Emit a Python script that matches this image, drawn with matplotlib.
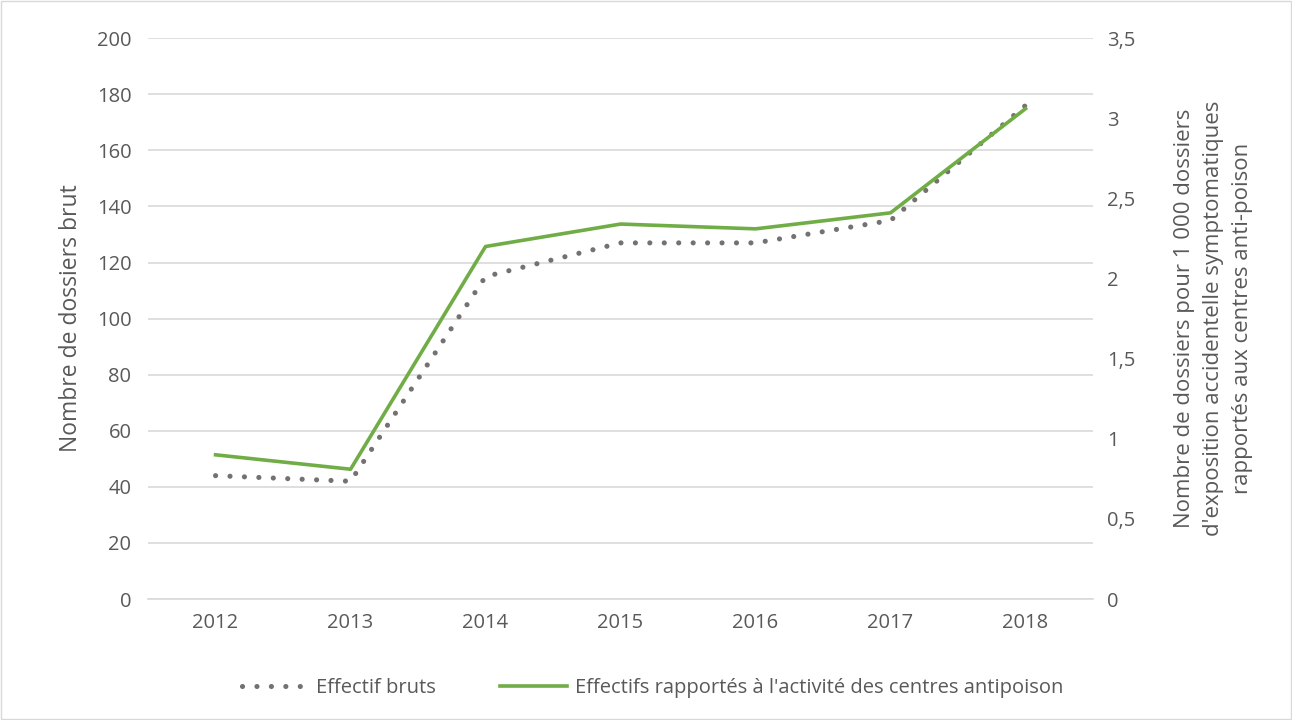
import matplotlib
matplotlib.use("Agg")
import matplotlib.pyplot as plt
from matplotlib.ticker import FixedLocator, FuncFormatter

plt.rcParams['font.family'] = ['Open Sans', 'DejaVu Sans']

years = ["2012", "2013", "2014", "2015", "2016", "2017", "2018"]
effectif_bruts = [44, 42, 115, 127, 127, 135, 176]
effectifs_rapportes = [0.90, 0.81, 2.20, 2.34, 2.31, 2.41, 3.06]

text_color = "#595959"
grid_color = "#d9d9d9"
dot_color = "#767171"
green = "#70ad47"

fig = plt.figure(figsize=(12.92, 7.2), dpi=100)
ax = fig.add_axes([0.1146, 0.168, 0.7314, 0.779])
ax2 = ax.twinx()

x = list(range(len(years)))
l1, = ax.plot(x, effectif_bruts, linestyle=(0, (0.01, 2.8)), dash_capstyle='round',
              color=dot_color, linewidth=3.7, label="Effectif bruts", zorder=3)
l2, = ax2.plot(x, effectifs_rapportes, color=green, linewidth=2.6,
               label="Effectifs rapportés à l'activité des centres antipoison", zorder=2)

ax.set_xlim(-0.5, len(years) - 0.5)
ax.set_ylim(0, 200)
ax2.set_ylim(0, 3.5)
ax.set_yticks(range(0, 201, 20))
ax2.yaxis.set_major_locator(FixedLocator([0, 0.5, 1, 1.5, 2, 2.5, 3, 3.5]))
ax2.yaxis.set_major_formatter(FuncFormatter(lambda v, p: ("%g" % v).replace(".", ",")))
ax.set_xticks(x)
ax.set_xticklabels(years)

ax.grid(axis='y', color=grid_color, linewidth=1.2)
ax.set_axisbelow(True)
for a in (ax, ax2):
    for s in a.spines.values():
        s.set_visible(False)
    a.tick_params(length=0, colors=text_color, labelsize=14.5)
ax.spines['bottom'].set_visible(True)
ax.spines['bottom'].set_color(grid_color)
ax.spines['bottom'].set_linewidth(1.2)
ax.tick_params(axis='x', pad=10)
ax.tick_params(axis='y', pad=12)
ax2.tick_params(axis='y', pad=10)

ax.set_ylabel("Nombre de dossiers brut", color=text_color, fontsize=16.5, labelpad=10)
ax2.set_ylabel("Nombre de dossiers pour 1 000 dossiers\nd'exposition accidentelle symptomatiques\nrapportés aux centres anti-poison",
               color=text_color, fontsize=16, labelpad=28, linespacing=1.5)

leg = fig.legend(handles=[l1, l2], loc='center', bbox_to_anchor=(0.505, 0.045), ncol=2,
                 frameon=False, fontsize=14.5, handlelength=3.3, columnspacing=3.2, handletextpad=0.4)
for t in leg.get_texts():
    t.set_color(text_color)

fig.patches.append(plt.Rectangle((0.001, 0.001), 0.998, 0.998, transform=fig.transFigure,
                                 fill=False, edgecolor="#d9d9d9", linewidth=1))

fig.savefig("out.png", dpi=100)
